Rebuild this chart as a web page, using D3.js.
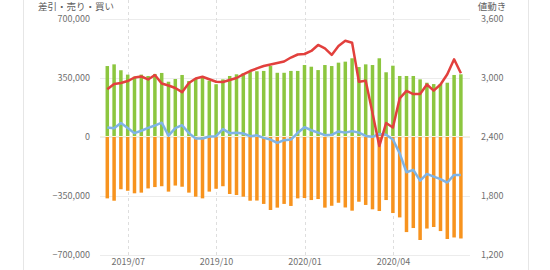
<!DOCTYPE html>
<html>
<head>
<meta charset="utf-8">
<script src="https://cdn.jsdelivr.net/npm/d3@7"></script>
<style>
  body { margin: 0; background: #fff; }
  svg { display: block; }
  text { font-family: "Noto Sans CJK JP", "Noto Sans", sans-serif; }
</style>
</head>
<body>
<div id="chart"></div>
<script>
// weekly data (Fridays)
const weeks = [
  "2019-06-14","2019-06-21","2019-06-28","2019-07-05","2019-07-12","2019-07-19","2019-07-26",
  "2019-08-02","2019-08-09","2019-08-16","2019-08-23","2019-08-30","2019-09-06","2019-09-13",
  "2019-09-20","2019-09-27","2019-10-04","2019-10-11","2019-10-18","2019-10-25","2019-11-01",
  "2019-11-08","2019-11-15","2019-11-22","2019-11-29","2019-12-06","2019-12-13","2019-12-20",
  "2019-12-27","2020-01-03","2020-01-10","2020-01-17","2020-01-24","2020-01-31","2020-02-07",
  "2020-02-14","2020-02-21","2020-02-28","2020-03-06","2020-03-13","2020-03-20","2020-03-27",
  "2020-04-03","2020-04-10","2020-04-17","2020-04-24","2020-05-01","2020-05-08","2020-05-15",
  "2020-05-22","2020-05-29","2020-06-05","2020-06-12"
];
// 売り (green, up)
const sell = [
  418000,428000,393000,367000,355000,367000,359000,371000,377000,325000,
  341000,365000,329000,341000,355000,331000,310000,339000,359000,369000,
  375000,383000,387000,389000,418000,378000,378000,389000,389000,424000,
  414000,394000,424000,418000,438000,444000,464000,412000,428000,424000,
  464000,381000,420000,359000,359000,359000,339000,319000,311000,311000,
  319000,365000,369000
];
// 買い (orange, down)
const buy = [
  -367000,-381000,-313000,-322000,-337000,-333000,-308000,-300000,-295000,-327000,
  -291000,-298000,-333000,-357000,-367000,-327000,-310000,-295000,-341000,-347000,
  -357000,-381000,-380000,-400000,-436000,-422000,-400000,-412000,-367000,-365000,
  -377000,-371000,-422000,-411000,-393000,-421000,-440000,-387000,-406000,-432000,
  -442000,-377000,-454000,-480000,-567000,-543000,-614000,-546000,-537000,-561000,
  -608000,-599000,-605000
];
// 差引 (blue line)
const net = [
  54000,49000,80000,50000,20000,34000,51000,65000,82000,5000,
  50000,67000,20000,-12000,-12000,0,2000,44000,20000,22000,
  18000,2000,7000,-8000,-18000,-38000,-22000,-18000,22000,55000,
  37000,23000,8000,10000,30000,23000,32000,23000,3000,-2000,
  15000,10000,-18000,-100000,-212000,-198000,-262000,-222000,-238000,-253000,
  -273000,-228000,-228000
];
// 値動き (red line, right axis)
const price = [
  2880,2934,2944,2964,3000,3010,2980,3025,2939,2919,
  2893,2851,2944,2990,3008,2982,2957,2954,2975,2995,
  3031,3066,3092,3117,3132,3147,3163,3203,3234,3239,
  3270,3331,3297,3229,3320,3374,3354,2957,2967,2639,
  2303,2537,2492,2788,2863,2832,2832,2929,2866,2929,
  3033,3185,3043
];
const leftTicks = [700000, 350000, 0, -350000, -700000];
const rightTicks = [3600, 3000, 2400, 1800, 1200];
const monthTicks = ["2019-07-05", "2019-10-04", "2020-01-03", "2020-04-03"];

const width = 550, height = 270;
const plotLeft = 100, plotRight = 470, plotTop = 18.5, plotBottom = 254.5;

const parse = d3.timeParse("%Y-%m-%d");
const dates = weeks.map(parse);

const svg = d3.select("#chart")
  .append("svg")
  .attr("width", width)
  .attr("height", height);

// x: one band per week, months land on a bar
const x = d3.scaleTime()
  .domain([dates[0], dates[dates.length - 1]])
  .range([107.3, 460.9]);
const y = d3.scaleLinear().domain([-700000, 700000]).range([plotBottom, plotTop]);
const y2 = d3.scaleLinear().domain([1200, 3600]).range([plotBottom, plotTop]);

// card borders
svg.selectAll(".border")
  .data([23.5, 528.5])
  .enter().append("line")
  .attr("x1", d => d).attr("x2", d => d)
  .attr("y1", 0).attr("y2", height)
  .attr("stroke", "#e6e6e6");

// horizontal grid
svg.append("g").selectAll("line")
  .data(leftTicks)
  .enter().append("line")
  .attr("x1", plotLeft).attr("x2", plotRight)
  .attr("y1", d => Math.round(y(d)) + 0.5).attr("y2", d => Math.round(y(d)) + 0.5)
  .attr("stroke", "#ececec");

// vertical dashed grid at month labels
svg.append("g").selectAll("line")
  .data(monthTicks.map(parse))
  .enter().append("line")
  .attr("x1", d => Math.round(x(d)) + 0.5).attr("x2", d => Math.round(x(d)) + 0.5)
  .attr("y1", 0).attr("y2", 259)
  .attr("stroke", "#dedede")
  .attr("stroke-dasharray", "3,3");

const barW = 3.5;

// sell bars
svg.append("g").selectAll("rect")
  .data(sell)
  .enter().append("rect")
  .attr("x", (d, i) => x(dates[i]) - barW / 2)
  .attr("y", d => y(d))
  .attr("width", barW)
  .attr("height", d => y(0) - y(d))
  .attr("fill", "#8cc63f");

// buy bars
svg.append("g").selectAll("rect")
  .data(buy)
  .enter().append("rect")
  .attr("x", (d, i) => x(dates[i]) - barW / 2)
  .attr("y", y(0))
  .attr("width", barW)
  .attr("height", d => y(d) - y(0))
  .attr("fill", "#f7931e");

// thin light line at zero
svg.append("line")
  .attr("x1", plotLeft).attr("x2", plotRight)
  .attr("y1", y(0)).attr("y2", y(0))
  .attr("stroke", "#f6f3dc")
  .attr("stroke-width", 1);

// net line
svg.append("path")
  .datum(net)
  .attr("fill", "none")
  .attr("stroke", "#7fb4e6")
  .attr("stroke-width", 2.5)
  .attr("stroke-linejoin", "round")
  .attr("d", d3.line().x((d, i) => x(dates[i])).y(d => y(d)));

// price line
svg.append("path")
  .datum(price)
  .attr("fill", "none")
  .attr("stroke", "#e2403d")
  .attr("stroke-width", 2.5)
  .attr("stroke-linejoin", "round")
  .attr("d", d3.line().x((d, i) => x(dates[i])).y(d => y2(d)));

// axes
const leftAxis = svg.append("g")
  .attr("transform", "translate(90,0)")
  .call(d3.axisLeft(y).tickValues(leftTicks).tickFormat(d3.format(",")).tickSize(0).tickPadding(0));

const rightAxis = svg.append("g")
  .attr("transform", "translate(481,0)")
  .call(d3.axisRight(y2).tickValues(rightTicks).tickFormat(d3.format(",")).tickSize(0).tickPadding(0));

const bottomAxis = svg.append("g")
  .attr("transform", "translate(0,259)")
  .call(d3.axisBottom(x).tickValues(monthTicks.map(parse)).tickFormat(d3.timeFormat("%Y/%m")).tickSize(0).tickPadding(0));

[leftAxis, rightAxis, bottomAxis].forEach(g => {
  g.select(".domain").remove();
  g.selectAll("text")
    .style("font-size", "9px")
    .attr("fill", "#707070")
    .style("font-family", "\"Noto Sans CJK JP\", sans-serif");
});

// axis titles
svg.append("text")
  .attr("x", 76).attr("y", 6)
  .attr("text-anchor", "middle")
  .attr("dominant-baseline", "central")
  .style("font-size", "9.5px")
  .attr("fill", "#606060")
  .text("差引・売り・買い");

svg.append("text")
  .attr("x", 492).attr("y", 6)
  .attr("text-anchor", "middle")
  .attr("dominant-baseline", "central")
  .style("font-size", "9.5px")
  .attr("fill", "#606060")
  .text("値動き");
</script>
</body>
</html>
